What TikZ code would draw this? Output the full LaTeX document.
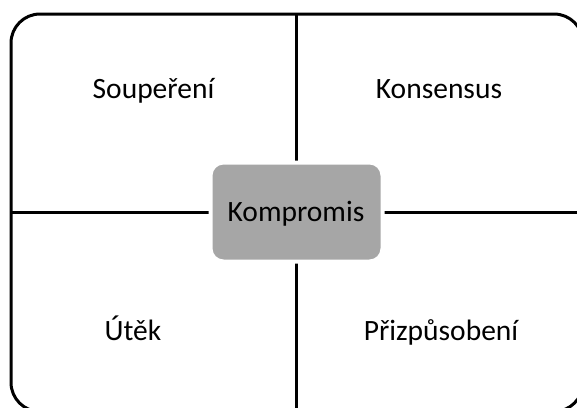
\documentclass[tikz,border=0pt]{standalone}
\usepackage{fontspec}
\setmainfont{Carlito}
\begin{document}
\begin{tikzpicture}[x=1pt,y=-1pt,
  lbl/.style={anchor=base,inner sep=0pt,font=\fontsize{29.5}{32}\selectfont,text=black},
  frame/.style={draw=black,line width=3pt,rounded corners=29pt},
  divider/.style={draw=black,line width=3pt},
  centerbox/.style={draw=white,line width=4pt,fill={rgb,255:red,166;green,166;blue,166},rounded corners=13pt,minimum width=172pt,minimum height=99pt,inner sep=0pt}]
\useasboundingbox (0,0) rectangle (577,407);
\draw[frame] (11,14) rectangle (583,411.5);
\coordinate (vt) at (296,14);
\coordinate (vb) at (296,411.5);
\coordinate (hl) at (11,212);
\coordinate (hr) at (583,212);
\draw[divider] (vt) -- (vb);
\draw[divider] (hl) -- (hr);
\node[centerbox] (komp) at (296.5,212) {};
\node[lbl] (kt) at (296,221.5) {Kompromis};
\node[lbl] (soup) at (153.5,98) {Soupeření};
\node[lbl] (kons) at (439,98) {Konsensus};
\node[lbl] (utek) at (133,340) {Útěk};
\node[lbl] (priz) at (441,340) {Přizpůsobení};
\end{tikzpicture}
\end{document}
